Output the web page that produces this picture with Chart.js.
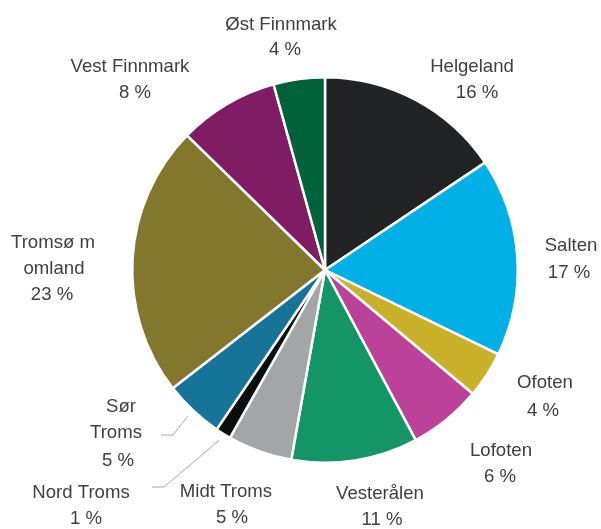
<!DOCTYPE html>
<html><head><meta charset="utf-8">
<script src="https://cdn.jsdelivr.net/npm/chart.js@4/dist/chart.umd.min.js"></script>
<style>html,body{margin:0;padding:0;background:#fff}#wrap{width:601px;height:529px}</style>
</head><body><div id="wrap"><canvas id="c" width="601" height="529"></canvas></div>
<script>
const categories = ["Helgeland","Salten","Ofoten","Lofoten","Vesterålen","Midt Troms","Nord Troms","Sør Troms","Tromsø m omland","Vest Finnmark","Øst Finnmark"];
const shares = [15.6, 16.6, 3.9, 6.1, 10.6, 5.4, 1.3, 5.0, 22.8, 8.4, 4.3];
const labelLines = [["Helgeland"],["Salten"],["Ofoten"],["Lofoten"],["Vesterålen"],["Midt Troms"],["Nord Troms"],["Sør","Troms"],["Tromsø m","omland"],["Vest Finnmark"],["Øst Finnmark"]];
const colors = ["#212324","#00b0e6","#c9b22a","#bc4199","#139566","#a3a5a6","#0b0d10","#177499","#82772c","#7f1c63","#01623b"];
// per-line text anchors (centre x, baseline y) relative to pie centre, in px
const labelPos = [
  [[147,-198],[152,-172]],
  [[246,-19],[244,8]],
  [[220,118],[218,146]],
  [[176,186],[175,212]],
  [[55,229],[57,255]],
  [[-99,227],[-93,253]],
  [[-244,228],[-239,254]],
  [[-204,142],[-209,168],[-207,196]],
  [[-272,-22],[-271,4],[-273,30]],
  [[-195,-198],[-190,-172]],
  [[-44,-240],[-40,-215]]
];
const leaders = {6:[[-173,217],[-161,217]], 7:[[-164,165],[-152,165]]};

const labelPlugin = {
  id:'labels',
  afterDraw(chart){
    const ctx = chart.ctx;
    const meta = chart.getDatasetMeta(0);
    const cx = meta.data[0].x, cy = meta.data[0].y;
    ctx.save();
    ctx.font = '18.6px "Liberation Sans", Arial, sans-serif';
    ctx.fillStyle = '#404040';
    ctx.textAlign = 'center';
    ctx.textBaseline = 'alphabetic';
    const total = shares.reduce((a,b)=>a+b,0);
    categories.forEach((c,i)=>{
      const lines = labelLines[i].concat([Math.round(shares[i]/total*100)+' %']);
      lines.forEach((t,k)=>{
        const p = labelPos[i][k];
        ctx.fillText(t, cx+p[0], cy+p[1]);
      });
      if (leaders[i]) {
        const el = meta.data[i];
        const mid = (el.startAngle+el.endAngle)/2;
        const r = el.outerRadius + 8;
        ctx.strokeStyle = '#a6a6a6'; ctx.lineWidth = 1;
        ctx.beginPath();
        ctx.moveTo(cx+leaders[i][0][0], cy+leaders[i][0][1]);
        ctx.lineTo(cx+leaders[i][1][0], cy+leaders[i][1][1]);
        ctx.lineTo(cx+Math.cos(mid)*r, cy+Math.sin(mid)*r);
        ctx.stroke();
      }
    });
    ctx.restore();
  }
};

new Chart(document.getElementById('c'), {
  type:'pie',
  data:{labels:categories, datasets:[{data:shares, backgroundColor:colors, borderColor:'#ffffff', borderWidth:2.5}]},
  options:{
    responsive:false, animation:false,
    layout:{padding:{left:131,right:82,top:76,bottom:65}},
    plugins:{legend:{display:false}, tooltip:{enabled:false}}
  },
  plugins:[labelPlugin]
});
</script></body></html>
